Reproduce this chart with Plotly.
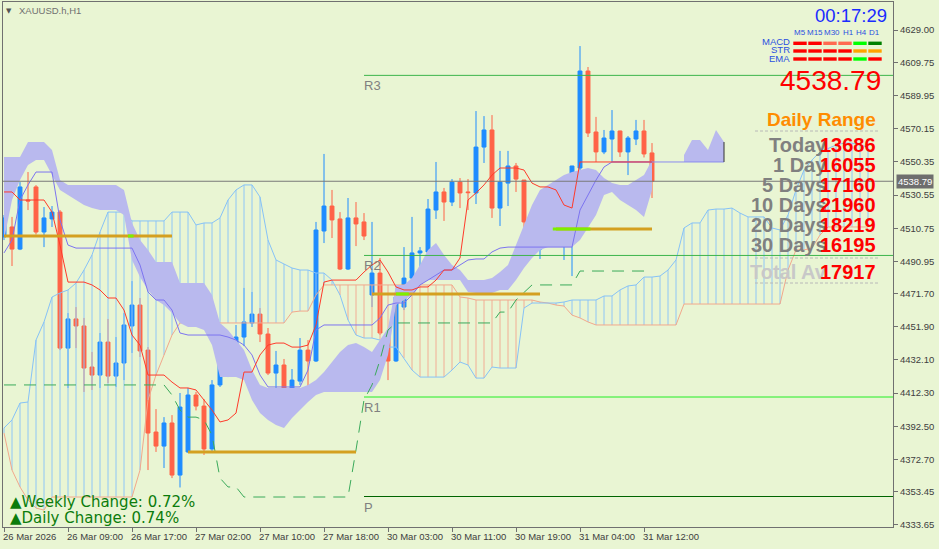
import plotly.graph_objects as go

# ---------------- data ----------------
bars = list(range(82))
open_ = [4505.5, 4511.5, 4498.3, 4527.6, 4535.4, 4508.5, 4516.3, 4520.4, 4439.2, 4456.6,
         4452.4, 4427.9, 4423.1, 4442.8, 4422.5, 4430.3, 4452.4, 4464.9, 4438.0, 4389.1,
         4380.7, 4394.5, 4363.4, 4377.2, 4411.2, 4404.6, 4379.0, 4417.2, 4431.5, 4436.9,
         4445.8, 4454.2, 4459.5, 4447.6, 4424.3, 4429.1, 4414.8, 4419.5, 4438.0, 4431.5,
         4509.1, 4524.0, 4516.3, 4486.4, 4516.9, 4514.5, 4470.9, 4484.0, 4448.2, 4431.5,
         4463.7, 4481.0, 4496.0, 4496.6, 4521.6, 4532.4, 4526.4, 4538.3, 4532.4, 4531.8,
         4559.2, 4569.4, 4522.8, 4537.7, 4547.9, 4539.5, 4515.1, 4498.3, 4513.3, 4507.5,
         4509.7, 4513.9, 4546.7, 4604.6, 4568.2, 4556.3, 4564.0, 4568.8, 4556.3, 4564.0,
         4568.8, 4555.7]
high = [4518.6, 4517.5, 4538.3, 4544.3, 4536.5, 4523.4, 4524.0, 4521.6, 4460.1, 4463.7,
        4457.2, 4436.9, 4448.2, 4456.6, 4445.8, 4460.1, 4479.2, 4469.1, 4439.8, 4402.8,
        4398.0, 4399.2, 4412.4, 4415.4, 4413.0, 4408.8, 4420.1, 4439.8, 4445.8, 4453.0,
        4475.1, 4472.7, 4463.1, 4451.2, 4437.5, 4432.7, 4426.7, 4445.2, 4444.0, 4514.5,
        4555.1, 4533.6, 4520.4, 4528.8, 4526.4, 4519.8, 4514.5, 4493.0, 4449.0, 4472.0,
        4499.5, 4517.5, 4499.5, 4528.2, 4550.3, 4534.8, 4540.1, 4540.7, 4540.1, 4580.7,
        4577.7, 4578.3, 4556.9, 4556.9, 4549.7, 4539.5, 4517.5, 4518.0, 4515.7, 4523.4,
        4521.0, 4548.0, 4619.5, 4607.0, 4577.2, 4569.4, 4581.3, 4569.0, 4565.8, 4575.4,
        4575.4, 4561.6]
low = [4503.7, 4488.2, 4497.7, 4521.6, 4507.0, 4499.5, 4511.5, 4438.0, 4415.4, 4439.2,
       4413.0, 4414.2, 4415.4, 4418.3, 4416.0, 4420.1, 4436.3, 4433.9, 4366.4, 4377.2,
       4367.6, 4361.6, 4356.0, 4376.6, 4402.0, 4375.4, 4376.6, 4416.0, 4421.9, 4426.1,
       4440.4, 4451.8, 4442.8, 4423.1, 4415.4, 4410.6, 4404.0, 4417.2, 4413.6, 4430.9,
       4501.9, 4504.9, 4485.8, 4485.8, 4500.1, 4503.7, 4463.7, 4447.0, 4420.1, 4431.0,
       4461.9, 4480.0, 4485.8, 4496.0, 4516.3, 4515.1, 4524.0, 4522.8, 4521.6, 4525.2,
       4549.7, 4516.9, 4512.1, 4524.0, 4532.4, 4510.9, 4498.0, 4492.4, 4501.3, 4501.3,
       4491.8, 4482.2, 4531.8, 4565.2, 4550.3, 4555.0, 4550.3, 4553.3, 4542.5, 4560.4,
       4553.0, 4528.8]
close = [4516.9, 4498.3, 4535.4, 4527.0, 4508.5, 4516.9, 4520.4, 4439.2, 4456.6, 4452.4,
         4427.3, 4423.1, 4442.8, 4422.5, 4430.3, 4453.0, 4464.9, 4437.5, 4388.5, 4380.7,
         4394.5, 4363.4, 4404.0, 4411.2, 4404.6, 4379.0, 4417.2, 4432.1, 4437.5, 4445.8,
         4454.8, 4459.5, 4447.6, 4424.3, 4429.1, 4414.8, 4420.1, 4438.0, 4431.5, 4509.7,
         4524.0, 4515.7, 4486.4, 4516.9, 4513.3, 4506.1, 4484.0, 4448.2, 4431.5, 4469.7,
         4481.0, 4496.0, 4497.2, 4522.2, 4532.4, 4526.4, 4538.3, 4531.8, 4532.0, 4559.2,
         4569.4, 4522.8, 4538.3, 4547.9, 4540.1, 4514.5, 4498.3, 4513.3, 4504.9, 4508.0,
         4513.9, 4547.9, 4604.6, 4567.6, 4556.3, 4564.6, 4568.8, 4556.3, 4564.6, 4568.8,
         4555.1, 4538.79]

tenkan = [4532.4, 4532.4, 4527.6, 4527.6, 4527.6, 4527.6, 4520.4, 4500.7, 4478.6, 4478.6,
          4478.6, 4476.9, 4473.9, 4469.1, 4469.1, 4461.9, 4447.0, 4441.0, 4423.1, 4423.1,
          4423.1, 4418.9, 4415.4, 4415.4, 4414.2, 4408.2, 4402.2, 4395.1, 4396.3, 4400.4,
          4424.9, 4424.9, 4435.1, 4441.0, 4442.2, 4442.2, 4439.8, 4439.8, 4441.0, 4453.0,
          4478.6, 4479.8, 4479.8, 4479.8, 4479.8, 4484.6, 4488.8, 4491.8, 4484.6, 4475.7,
          4473.9, 4473.9, 4475.7, 4475.7, 4479.8, 4485.8, 4485.8, 4493.0, 4527.6, 4531.8,
          4536.6, 4542.5, 4546.7, 4546.7, 4546.7, 4545.5, 4537.7, 4535.4, 4535.4, 4533.6,
          4524.6, 4522.8, 4550.3, 4550.3, 4550.3, 4550.3, 4550.3, 4550.3, 4550.3, 4550.3,
          4550.3, 4550.3]
kijun = [4496.0, 4503.7, 4527.6, 4536.6, 4544.3, 4544.3, 4544.3, 4515.7, 4500.7, 4498.9,
         4498.9, 4498.9, 4498.9, 4498.9, 4498.9, 4498.9, 4498.9, 4488.8, 4472.7, 4467.9,
         4467.9, 4461.9, 4448.2, 4447.0, 4447.0, 4447.0, 4447.0, 4447.0, 4445.8, 4444.0,
         4441.0, 4435.1, 4423.1, 4416.0, 4416.0, 4416.0, 4416.0, 4416.0, 4426.1, 4450.0,
         4453.0, 4453.0, 4453.0, 4453.0, 4453.0, 4453.0, 4453.0, 4457.2, 4464.9, 4466.1,
         4466.1, 4470.9, 4476.9, 4479.8, 4482.8, 4485.8, 4485.8, 4488.8, 4491.8, 4492.4,
         4492.4, 4496.6, 4498.9, 4499.5, 4499.5, 4499.5, 4499.5, 4499.5, 4499.5, 4499.5,
         4499.5, 4499.5, 4521.6, 4530.6, 4539.5, 4547.3, 4550.3, 4550.3, 4550.3, 4550.3,
         4550.3, 4550.3]

cloud_top = [4553.3, 4553.3, 4553.3, 4562.2, 4562.2, 4562.2, 4557.5, 4539.5, 4536.6, 4536.6,
             4536.6, 4536.6, 4536.6, 4536.6, 4536.6, 4533.6, 4513.9, 4503.7, 4497.8, 4490.6,
             4490.6, 4490.6, 4478.0, 4478.0, 4478.0, 4478.0, 4470.9, 4454.2, 4450.0, 4444.0,
             4438.1, 4426.1, 4417.2, 4415.4, 4415.4, 4415.4, 4415.4, 4415.4, 4417.2, 4420.1,
             4424.9, 4430.9, 4436.9, 4441.0, 4442.2, 4439.8, 4436.9, 4444.0, 4451.2, 4476.9,
             4476.9, 4481.0, 4488.8, 4497.8, 4501.9, 4494.8, 4488.8, 4485.8, 4479.8, 4479.8,
             4479.8, 4481.0, 4484.6, 4488.8, 4500.7, 4512.7, 4524.6, 4533.6, 4536.6, 4539.5,
             4542.5, 4544.3, 4545.5, 4546.7, 4545.5, 4540.7, 4537.7, 4536.6, 4536.6, 4539.5,
             4542.5, 4551.5]
cloud_bot = [4503.7, 4527.6, 4539.5, 4548.5, 4551.5, 4551.5, 4542.5, 4533.6, 4530.6, 4527.6,
             4524.6, 4522.8, 4521.6, 4521.6, 4521.6, 4518.6, 4491.8, 4481.6, 4473.9, 4467.9,
             4464.9, 4460.1, 4454.2, 4451.8, 4451.8, 4450.0, 4441.0, 4421.9, 4421.9, 4421.9,
             4420.1, 4408.2, 4400.4, 4396.3, 4393.3, 4391.5, 4397.5, 4402.2, 4407.0, 4411.2,
             4413.0, 4413.0, 4413.0, 4413.0, 4413.0, 4413.0, 4413.0, 4420.1, 4435.1, 4464.9,
             4467.9, 4470.9, 4476.9, 4479.8, 4479.8, 4479.8, 4479.8, 4479.8, 4472.7, 4472.1,
             4472.1, 4472.1, 4473.9, 4473.9, 4479.8, 4487.0, 4493.0, 4497.8, 4499.5, 4499.5,
             4499.5, 4499.5, 4503.7, 4510.9, 4518.6, 4530.6, 4532.4, 4527.6, 4524.6, 4521.6,
             4517.5, 4533.6]
future_bars = [85, 86, 87, 88, 89, 90]
future_top = [4554.5, 4563.4, 4563.4, 4557.5, 4569.4, 4562.2]
future_bot = [4550.3, 4550.3, 4550.3, 4550.3, 4550.3, 4550.3]

span_a = [4391.5, 4396.3, 4406.4, 4407.0, 4444.0, 4454.8, 4469.7, 4472.1, 4473.9, 4478.0,
          4485.8, 4494.8, 4508.5, 4520.4, 4520.4, 4520.4, 4515.1, 4515.1, 4515.1, 4515.1,
          4515.1, 4520.4, 4520.4, 4520.4, 4512.7, 4513.9, 4513.9, 4516.9, 4527.6, 4533.6,
          4536.6, 4536.6, 4529.4, 4503.7, 4491.8, 4489.4, 4487.0, 4485.8, 4485.8, 4484.0,
          4484.0, 4479.8, 4470.9, 4456.0, 4447.0, 4445.2, 4445.2, 4444.0, 4439.8, 4439.8,
          4433.3, 4426.1, 4421.9, 4421.9, 4421.9, 4421.9, 4426.1, 4430.9, 4429.1, 4421.3,
          4421.3, 4427.9, 4427.3, 4427.3, 4427.3, 4463.1, 4466.1, 4466.1, 4466.1, 4466.1,
          4466.7, 4467.9, 4467.9, 4467.9, 4467.9, 4470.3, 4470.3, 4473.9, 4476.3, 4476.9,
          4481.6, 4481.6, 4482.2, 4485.8, 4491.8, 4510.9, 4513.9, 4513.9, 4521.6, 4522.2,
          4522.2, 4522.8, 4519.8, 4517.5, 4517.5, 4517.5, 4510.9, 4509.7, 4518.6, 4533.6,
          4545.5, 4551.5, 4556.3, 4558.6, 4560.4, 4561.6, 4561.6, 4560.4, 4559.2]
span_b = [4388.5, 4366.4, 4356.3, 4348.5, 4343.7, 4342.5, 4350.3, 4350.3, 4350.3, 4350.3,
          4350.3, 4350.3, 4350.3, 4350.3, 4350.3, 4350.3, 4350.3, 4366.4, 4408.2, 4423.1,
          4435.1, 4447.0, 4454.2, 4454.2, 4454.2, 4454.2, 4454.2, 4454.2, 4454.2, 4454.2,
          4454.2, 4454.2, 4454.2, 4454.2, 4454.2, 4454.2, 4460.7, 4461.3, 4461.3, 4470.9,
          4476.9, 4476.9, 4476.9, 4476.9, 4476.9, 4476.9, 4476.9, 4476.9, 4476.9, 4476.9,
          4476.9, 4476.9, 4476.9, 4476.9, 4476.9, 4476.9, 4476.9, 4469.7, 4469.1, 4467.9,
          4467.9, 4467.9, 4467.9, 4467.9, 4467.9, 4467.9, 4467.9, 4466.7, 4466.1, 4464.9,
          4464.3, 4458.9, 4457.2, 4454.8, 4453.0, 4453.0, 4453.0, 4453.0, 4453.0, 4453.0,
          4453.0, 4453.0, 4453.0, 4453.0, 4453.0, 4465.5, 4465.5, 4465.5, 4465.5, 4465.5,
          4465.5, 4465.5, 4465.5, 4465.5, 4465.5, 4465.5, 4465.5, 4465.5, 4485.8, 4497.8,
          4497.8, 4498.9, 4506.7, 4511.5, 4511.5, 4511.5, 4511.5, 4511.5, 4511.5]

green_dash = [4417.2, 4417.2, 4417.2, 4417.2, 4417.2, 4417.2, 4417.2, 4417.2, 4417.2, 4417.2,
              4417.2, 4417.2, 4417.2, 4417.2, 4417.2, 4417.2, 4417.2, 4417.2, 4417.2, 4417.2,
              4417.2, 4411.2, 4402.2, 4398.0, 4398.0, 4396.3, 4387.3, 4361.6, 4356.3, 4356.3,
              4350.3, 4350.3, 4350.3, 4350.3, 4350.3, 4350.3, 4350.3, 4350.3, 4350.3, 4350.3,
              4350.3, 4350.3, 4350.3, 4350.3, 4378.4, 4408.2, 4417.2, 4432.1, 4450.0, 4454.2,
              4454.2, 4454.2, 4454.2, 4454.2, 4454.2, 4454.2, 4454.2, 4454.2, 4454.2, 4454.2,
              4454.2, 4454.2, 4460.7, 4460.7, 4467.9, 4472.7, 4476.9, 4476.9, 4476.9, 4476.9,
              4476.9, 4476.9, 4485.2, 4485.2, 4485.2, 4485.2, 4485.2, 4485.2, 4485.2, 4485.2,
              4485.2, 4485.2]

gold_levels = [4506.1, 4377.2, 4471.5, 4510.3]
gold_start = [0, 23, 46, 69]
gold_end = [21, 44, 67, 81]
lime_levels = [4506.1, 4471.5, 4510.3]
lime_start = [15.5, 49.0, 68.6]
lime_end = [16.2, 50.6, 73.3]

pivot_names = ["R3", "R2", "R1", "P"]
pivot_levels = [4602.0, 4494.5, 4410.0, 4350.6]
pivot_colors = ["#3cb44b", "#3cb44b", "#22ee22", "#006400"]
pivot_start = 45

current_price = 4538.79

x_tick_idx = [0, 8, 16, 24, 32, 40, 48, 56, 64, 72, 80]
x_tick_text = ["26 Mar 2026", "26 Mar 09:00", "26 Mar 17:00", "27 Mar 02:00", "27 Mar 10:00",
               "27 Mar 18:00", "30 Mar 03:00", "30 Mar 11:00", "30 Mar 19:00", "31 Mar 04:00",
               "31 Mar 12:00"]
y_tick_vals = [4629.00, 4609.75, 4589.95, 4570.15, 4550.35, 4530.55, 4510.75, 4490.95,
               4471.70, 4451.90, 4432.10, 4412.30, 4392.50, 4372.70, 4353.45, 4333.65]

tf_labels = ["M5", "M15", "M30", "H1", "H4", "D1"]
ind_labels = ["MACD", "STR", "EMA"]
ind_colors = [["#ff0000", "#ff0000", "#ff6a50", "#ff6a50", "#00ff00", "#008000"],
              ["#ff0000", "#ff0000", "#ff0000", "#ff0000", "#ffa500", "#ffa500"],
              ["#ff0000", "#ff0000", "#ff0000", "#ff0000", "#00ff00", "#ff0000"]]
range_labels = ["Today", "1 Day", "5 Days", "10 Days", "20 Days", "30 Days"]
range_values = ["13686", "16055", "17160", "21960", "18219", "16195"]
total_label = "Total Av"
total_value = "17917"
clock_text = "00:17:29"
weekly_change = "0.72%"
daily_change = "0.74%"
symbol_text = "XAUUSD.h,H1"

# ---------------- layout helpers ----------------
W, H = 939, 549
ML, MR, MT, MB = 3, 46, 2, 22
X_RANGE = [-0.125, 111.125]
Y_RANGE = [4332.4, 4645.8]
BG = "#e9f5d3"
FONT = "Liberation Sans, Arial, sans-serif"


def PX(x):
    return (x - ML) / (W - ML - MR)


def PY(y):
    return (H - MB - y) / (H - MT - MB)


fig = go.Figure()

# hatched (shifted) cloud
hb_x, hb_y, hs_x, hs_y = [], [], [], []
for i, (a, b) in enumerate(zip(span_a, span_b)):
    if a >= b:
        hb_x += [i, i, None]; hb_y += [a, b, None]
    else:
        hs_x += [i, i, None]; hs_y += [a, b, None]
fig.add_trace(go.Scatter(x=hb_x, y=hb_y, mode="lines", line=dict(color="#8ec6f7", width=1)))
fig.add_trace(go.Scatter(x=hs_x, y=hs_y, mode="lines", line=dict(color="#f2ad94", width=1)))
idx_span = list(range(len(span_a)))
fig.add_trace(go.Scatter(x=idx_span, y=span_b, mode="lines", line=dict(color="#f2a88c", width=1)))
fig.add_trace(go.Scatter(x=idx_span, y=span_a, mode="lines", line=dict(color="#86c2f7", width=1)))

# lavender cloud
fig.add_trace(go.Scatter(x=bars + bars[::-1], y=cloud_top + cloud_bot[::-1], mode="lines",
                         fill="toself", fillcolor="#b9b9ee", line=dict(width=0, color="#b9b9ee")))
fig.add_trace(go.Scatter(x=future_bars + future_bars[::-1], y=future_top + future_bot[::-1],
                         mode="lines", fill="toself", fillcolor="#b9b9ee",
                         line=dict(width=0, color="#b9b9ee")))
fig.add_trace(go.Scatter(x=[76, 90], y=[4550.3, 4550.3], mode="lines",
                         line=dict(color="#8a8aee", width=1)))
fig.add_trace(go.Scatter(x=[90, 90], y=[future_bot[-1], future_top[-1]], mode="lines",
                         line=dict(color="#333333", width=1)))

# dashed green
fig.add_trace(go.Scatter(x=bars, y=green_dash, mode="lines",
                         line=dict(color="#3aaa5a", width=1, dash="12px,8px")))

# tenkan / kijun
fig.add_trace(go.Scatter(x=bars, y=kijun, mode="lines", line=dict(color="#7c74f0", width=1)))
fig.add_trace(go.Scatter(x=bars, y=tenkan, mode="lines", line=dict(color="#ff3a2a", width=1)))

# candles
fig.add_trace(go.Candlestick(
    x=bars, open=open_, high=high, low=low, close=close,
    increasing=dict(line=dict(color="#1e8cff", width=1), fillcolor="#1e8cff"),
    decreasing=dict(line=dict(color="#ff6347", width=1), fillcolor="#ff6347"),
    whiskerwidth=0))

# gold levels
for lv, s, e in zip(gold_levels, gold_start, gold_end):
    fig.add_trace(go.Scatter(x=[s, e], y=[lv, lv], mode="lines",
                             line=dict(color="#d4a020", width=3)))
for lv, s, e in zip(lime_levels, lime_start, lime_end):
    fig.add_trace(go.Scatter(x=[s, e], y=[lv, lv], mode="lines",
                             line=dict(color="#7cf000", width=3)))

# pivots
for name, lv, col in zip(pivot_names, pivot_levels, pivot_colors):
    fig.add_trace(go.Scatter(x=[pivot_start, X_RANGE[1]], y=[lv, lv], mode="lines",
                             line=dict(color=col, width=1)))

annotations = []
shapes = []

for name, lv in zip(pivot_names, pivot_levels):
    annotations.append(dict(x=pivot_start, y=lv, xref="x", yref="y", text=name, showarrow=False,
                            xanchor="left", yanchor="top", xshift=-2, yshift=-1,
                            font=dict(family=FONT, size=13, color="#808080")))

# current price line
shapes.append(dict(type="line", xref="paper", yref="y", x0=0, x1=1, y0=current_price,
                   y1=current_price, line=dict(color="#7a7a7a", width=1)))
annotations.append(dict(x=1, y=current_price, xref="paper", yref="y", text=f"{current_price:.2f}",
                        showarrow=False, xanchor="left", yanchor="middle", xshift=3,
                        bgcolor="#6e6e6e", borderpad=1,
                        font=dict(family=FONT, size=9.5, color="#ffffff")))

# x tick labels
for i, t in zip(x_tick_idx, x_tick_text):
    annotations.append(dict(x=i, y=0, xref="x", yref="paper", text=t, showarrow=False,
                            xanchor="left", yanchor="top", xshift=-3, yshift=-2,
                            font=dict(family=FONT, size=9.5, color="#404040")))

# symbol label
annotations.append(dict(x=PX(9), y=PY(11), xref="paper", yref="paper", text="▼", showarrow=False,
                        xanchor="center", yanchor="middle",
                        font=dict(family="DejaVu Sans", size=7, color="#555555")))
annotations.append(dict(x=PX(17), y=PY(11), xref="paper", yref="paper", text=symbol_text,
                        showarrow=False, xanchor="left", yanchor="middle",
                        font=dict(family=FONT, size=9.5, color="#707070")))

# weekly / daily change
annotations.append(dict(x=PX(8), y=PY(502), xref="paper", yref="paper",
                        text="▲Weekly Change: " + weekly_change, showarrow=False,
                        xanchor="left", yanchor="middle",
                        font=dict(family="DejaVu Sans", size=15, color="#0c7c0c")))
annotations.append(dict(x=PX(8), y=PY(518), xref="paper", yref="paper",
                        text="▲Daily Change: " + daily_change, showarrow=False,
                        xanchor="left", yanchor="middle",
                        font=dict(family="DejaVu Sans", size=15, color="#0c7c0c")))

# right panel
annotations.append(dict(x=PX(889), y=PY(16), xref="paper", yref="paper", text=clock_text,
                        showarrow=False, xanchor="right", yanchor="middle",
                        font=dict(family=FONT, size=18.5, color="#1a2cff")))
tf_cx = [800, 815, 832, 848.5, 861, 874.5]
for lab, cx in zip(tf_labels, tf_cx):
    annotations.append(dict(x=PX(cx), y=PY(32), xref="paper", yref="paper", text=lab,
                            showarrow=False, xanchor="center", yanchor="middle",
                            font=dict(family=FONT, size=8, color="#2a50e0")))
row_cy = [43.3, 51, 59]
lab_cy = [42, 49.8, 58]
col_x = [(793.3, 806.7), (808.3, 821.7), (823.3, 836.7), (838.3, 851.7), (853.3, 866.7), (868.3, 881.7)]
for lab, cy, ly, cols in zip(ind_labels, row_cy, lab_cy, ind_colors):
    annotations.append(dict(x=PX(792), y=PY(ly), xref="paper", yref="paper", text=lab,
                            showarrow=False, xanchor="right", yanchor="middle",
                            font=dict(family=FONT, size=9.5, color="#2a50e0")))
    for (x0, x1), c in zip(col_x, cols):
        shapes.append(dict(type="rect", xref="paper", yref="paper", x0=PX(x0), x1=PX(x1),
                           y0=PY(cy - 1.7), y1=PY(cy + 1.7), fillcolor=c, line=dict(width=0)))
annotations.append(dict(x=PX(883), y=PY(80), xref="paper", yref="paper", text=f"{current_price:.2f}",
                        showarrow=False, xanchor="right", yanchor="middle",
                        font=dict(family=FONT, size=28, color="#ff0000")))
annotations.append(dict(x=PX(878), y=PY(120), xref="paper", yref="paper", text="<b>Daily Range</b>",
                        showarrow=False, xanchor="right", yanchor="middle",
                        font=dict(family=FONT, size=19, color="#ff8c00")))
for yy in [131, 258, 283]:
    shapes.append(dict(type="line", xref="paper", yref="paper", x0=PX(755), x1=PX(878),
                       y0=PY(yy), y1=PY(yy), line=dict(color="#b8b8b8", width=1, dash="3px,2px")))
row_y = [145, 165, 185, 205, 225, 245]
for lab, val, yy in zip(range_labels, range_values, row_y):
    annotations.append(dict(x=PX(829), y=PY(yy), xref="paper", yref="paper", text=f"<b>{lab}</b>",
                            showarrow=False, xanchor="right", yanchor="middle",
                            font=dict(family=FONT, size=20, color="#808080")))
    annotations.append(dict(x=PX(878), y=PY(yy), xref="paper", yref="paper", text=f"<b>{val}</b>",
                            showarrow=False, xanchor="right", yanchor="middle",
                            font=dict(family=FONT, size=20, color="#ff0000")))
annotations.append(dict(x=PX(829), y=PY(272), xref="paper", yref="paper", text=f"<b>{total_label}</b>",
                        showarrow=False, xanchor="right", yanchor="middle",
                        font=dict(family=FONT, size=20, color="#c8c8c8")))
annotations.append(dict(x=PX(878), y=PY(272), xref="paper", yref="paper", text=f"<b>{total_value}</b>",
                        showarrow=False, xanchor="right", yanchor="middle",
                        font=dict(family=FONT, size=20, color="#ff0000")))

fig.update_layout(
    width=W, height=H,
    margin=dict(l=ML, r=MR, t=MT, b=MB),
    paper_bgcolor=BG, plot_bgcolor=BG,
    showlegend=False,
    hovermode=False,
    annotations=annotations,
    shapes=shapes,
    xaxis=dict(range=X_RANGE, showgrid=False, zeroline=False, showline=True, linecolor="#707070",
               mirror=True, ticks="outside", ticklen=4, tickcolor="#707070",
               tickvals=x_tick_idx, showticklabels=False, rangeslider=dict(visible=False),
               fixedrange=True),
    yaxis=dict(range=Y_RANGE, side="right", showgrid=False, zeroline=False, showline=True,
               linecolor="#707070", mirror=True, ticks="outside", ticklen=4, tickcolor="#707070",
               tickvals=y_tick_vals, ticktext=[f"{v:.2f}" for v in y_tick_vals],
               tickfont=dict(family=FONT, size=9.5, color="#404040"), fixedrange=True),
)

fig.write_html("out.html", config={"displayModeBar": False},
               post_script="document.body.style.margin='0px';document.body.style.background='%s';" % BG)
